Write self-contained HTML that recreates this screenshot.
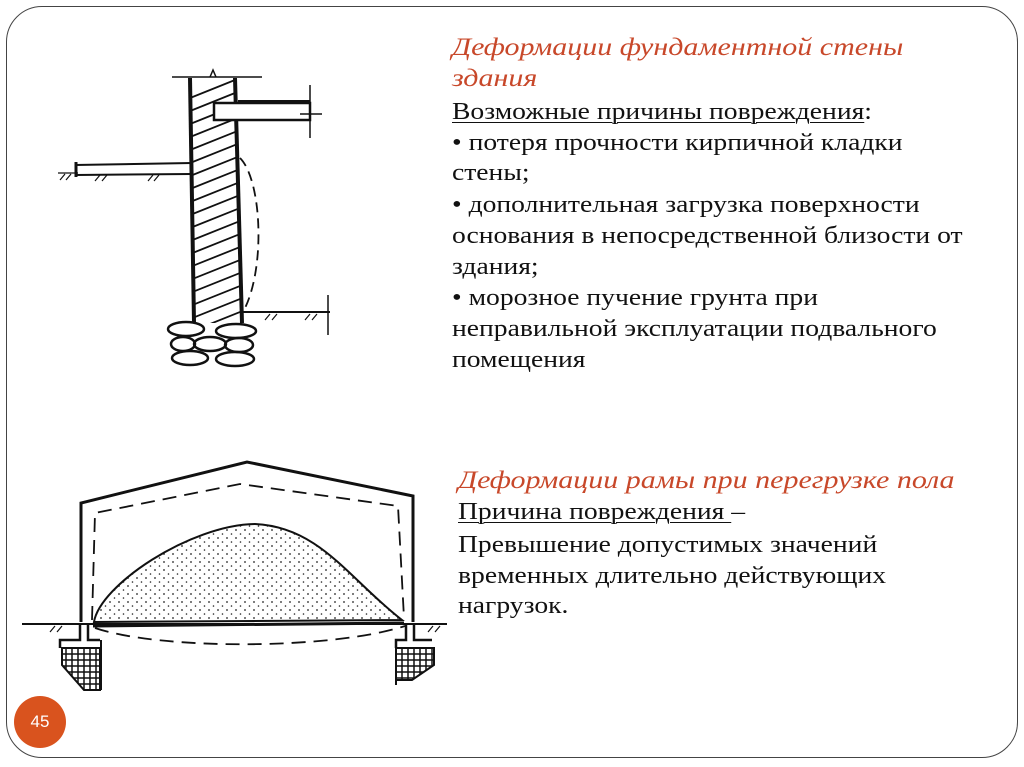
<!DOCTYPE html>
<html><head><meta charset="utf-8"><style>
html,body{margin:0;padding:0;background:#fff;}
#c{position:relative;width:1024px;height:767px;overflow:hidden;background:#fff;}
.frame{position:absolute;left:6px;top:6px;width:1010px;height:750px;border:1.5px solid #444;border-radius:36px;}
.t{position:absolute;font-family:"Liberation Serif","Noto Serif CJK SC",serif;font-size:24px;line-height:31px;color:#111;white-space:nowrap;transform:scaleX(1.15);transform-origin:0 50%;}
.h{font-style:italic;color:#c8482a;font-size:25px;transform:scaleX(1.2);}
u{text-decoration-thickness:1px;text-underline-offset:3px;}
.num{position:absolute;left:14px;top:696px;width:52px;height:52px;border-radius:50%;background:#d9531e;color:#fff;font-family:"Liberation Sans",sans-serif;font-size:17px;line-height:52px;text-align:center;}
</style></head><body><div id="c">
<div class="frame"></div>
<svg width="1024" height="767" style="position:absolute;left:0;top:0">
<defs>
<pattern id="dots" width="9" height="8" patternUnits="userSpaceOnUse"><circle cx="2" cy="2" r="0.9" fill="#222"/><circle cx="6.5" cy="6" r="0.8" fill="#222"/></pattern>
<pattern id="grid" width="6" height="6" patternUnits="userSpaceOnUse"><rect width="6" height="6" fill="#fff" stroke="#111" stroke-width="1.5"/></pattern>
<clipPath id="wall"><polygon points="191,78 235,78 242,323 193,323"/></clipPath>
</defs>
<g stroke="#111" fill="none" stroke-width="2">
<line x1="172" y1="77" x2="262" y2="77" stroke-width="1.5"/>
<path d="M210,77 l3,-7 l3,7" stroke-width="1.5"/>
<g clip-path="url(#wall)" stroke-width="1.8">
<path d="M160,110 l100,-40 M160,123 l100,-40 M160,136 l100,-40 M160,149 l100,-40 M160,162 l100,-40 M160,175 l100,-40 M160,188 l100,-40 M160,201 l100,-40 M160,214 l100,-40 M160,227 l100,-40 M160,240 l100,-40 M160,253 l100,-40 M160,266 l100,-40 M160,279 l100,-40 M160,292 l100,-40 M160,305 l100,-40 M160,318 l100,-40 M160,331 l100,-40 M160,344 l100,-40 M160,357 l100,-40 M160,370 l100,-40"/>
</g>
<line x1="190" y1="78" x2="194" y2="323" stroke-width="4"/>
<line x1="235" y1="78" x2="242" y2="323" stroke-width="4"/>
<rect x="214" y="103" width="96" height="17" fill="#fff" stroke-width="2.5"/>
<line x1="238" y1="101" x2="310" y2="101" stroke-width="2"/>
<line x1="310" y1="85" x2="310" y2="138" stroke-width="1.5"/>
<line x1="300" y1="114" x2="322" y2="114" stroke-width="1.5"/>
<path d="M75,165 L192,163 M75,175 L192,174" stroke-width="2"/>
<line x1="76" y1="162" x2="76" y2="177" stroke-width="3"/>
<path d="M58,173 L78,173 M60,180 l5,-6 M66,180 l5,-6 M95,181 l5,-6 M102,181 l5,-6 M148,181 l5,-6 M154,181 l5,-6" stroke-width="1.2"/>
<path d="M240,158 C262,180 266,270 243,312" stroke-dasharray="10,6" stroke-width="1.8"/>
<line x1="243" y1="312" x2="330" y2="312" stroke-width="2"/>
<line x1="328" y1="295" x2="328" y2="335" stroke-width="1.5"/>
<path d="M265,320 l5,-6 M272,320 l5,-6 M305,320 l5,-6 M312,320 l5,-6" stroke-width="1.2"/>
<g stroke-width="2.5">
<ellipse cx="186" cy="329" rx="18" ry="7"/><ellipse cx="236" cy="331" rx="20" ry="7"/>
<ellipse cx="183" cy="344" rx="12" ry="7"/><ellipse cx="210" cy="344" rx="16" ry="7"/><ellipse cx="239" cy="345" rx="14" ry="7"/>
<ellipse cx="190" cy="358" rx="18" ry="7"/><ellipse cx="235" cy="359" rx="19" ry="7"/>
</g>
<path d="M81,622 L81,503 L247,462 L413,496 L413,622" stroke-width="3"/>
<path d="M92,620 L95,513 L240,484 L398,506 L404,618" stroke-dasharray="14,8" stroke-width="1.8"/>
<path d="M94,622 C100,585 190,525 255,524 C320,527 350,580 402,620 Z" fill="url(#dots)" stroke-width="2"/>
<line x1="22" y1="624" x2="447" y2="624" stroke-width="2"/>
<line x1="93" y1="626" x2="404" y2="623" stroke-width="3"/>
<path d="M95,628 C160,650 330,650 405,626" stroke-dasharray="14,8" stroke-width="1.8"/>
<path d="M50,632 l5,-6 M57,632 l5,-6 M428,632 l5,-6 M435,632 l5,-6" stroke-width="1.2"/>
<path d="M80,624 L80,640 L60,640 L60,648" stroke-width="2.5"/>
<path d="M88,624 L88,640 L100,640" stroke-width="2.5"/>
<polygon points="62,648 100,648 100,690 84,690 62,665" fill="url(#grid)" stroke-width="2"/>
<line x1="101" y1="640" x2="101" y2="690" stroke-width="2"/>
<path d="M406,624 L406,640 L396,640 L396,648" stroke-width="2.5"/>
<path d="M414,624 L414,640 L432,640" stroke-width="2.5"/>
<polygon points="396,648 434,648 434,665 412,680 396,680" fill="url(#grid)" stroke-width="2"/>
<line x1="396" y1="640" x2="396" y2="685" stroke-width="2"/>
</g>
</svg>
<div class="t h" style="left:452px;top:32px">Деформации фундаментной стены</div>
<div class="t h" style="left:452px;top:63px">здания</div>
<div class="t" style="left:452px;top:97px"><u>Возможные причины повреждения</u>:</div>
<div class="t" style="left:452px;top:128px">• потеря прочности кирпичной кладки</div>
<div class="t" style="left:452px;top:158px">стены;</div>
<div class="t" style="left:452px;top:190px">• дополнительная загрузка поверхности</div>
<div class="t" style="left:452px;top:221px">основания в непосредственной близости от</div>
<div class="t" style="left:452px;top:252px">здания;</div>
<div class="t" style="left:452px;top:283px">• морозное пучение грунта при</div>
<div class="t" style="left:452px;top:314px">неправильной эксплуатации подвального</div>
<div class="t" style="left:452px;top:345px">помещения</div>
<div class="t h" style="left:458px;top:465px">Деформации рамы при перегрузке пола</div>
<div class="t" style="left:458px;top:497px"><u>Причина повреждения </u>–</div>
<div class="t" style="left:458px;top:530px">Превышение допустимых значений</div>
<div class="t" style="left:458px;top:561px">временных длительно действующих</div>
<div class="t" style="left:458px;top:591px">нагрузок.</div>
<div class="num">45</div>
</div></body></html>
